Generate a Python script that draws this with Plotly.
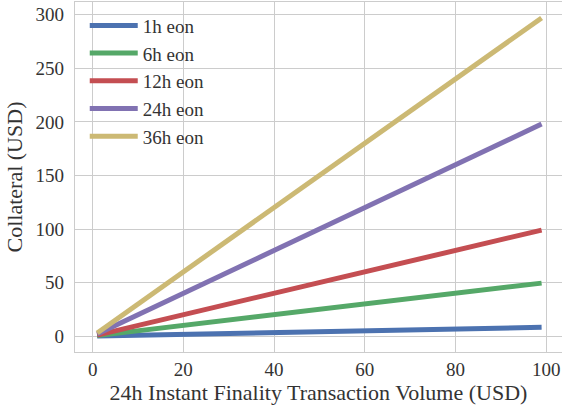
import plotly.graph_objects as go

# Transaction volume sampled at the ends of each (linear) series
volume = [1, 99]
labels = ["1h eon", "6h eon", "12h eon", "24h eon", "36h eon"]
coll_1h = [0.08, 8.25]
coll_6h = [0.5, 49.5]
coll_12h = [1.0, 99.0]
coll_24h = [2.0, 198.0]
coll_36h = [3.0, 297.0]
colors = ["#4C72B0", "#55A868", "#C44E52", "#8172B2", "#CCB974"]

series = [coll_1h, coll_6h, coll_12h, coll_24h, coll_36h]

FONT = "Liberation Serif"
fig = go.Figure()
for name, ys, c in zip(labels, series, colors):
    fig.add_trace(go.Scatter(x=volume, y=ys, mode="lines", name=name,
                             line=dict(color=c, width=5)))

axis_common = dict(showgrid=True, gridcolor="#cccccc", gridwidth=1,
                   showline=True, linecolor="#cccccc", linewidth=1.2, mirror=True,
                   zeroline=False, ticks="",
                   tickfont=dict(family=FONT, size=19, color="#333333"))

fig.update_layout(
    width=562, height=410,
    margin=dict(l=75, r=0, t=2, b=58),
    plot_bgcolor="white", paper_bgcolor="white",
    font=dict(family=FONT, color="#333333"),
    xaxis=dict(range=[-3.9, 103.5], tickvals=[0, 20, 40, 60, 80, 100],
               title=dict(text="24h Instant Finality Transaction Volume (USD)",
                          font=dict(family=FONT, size=22, color="#333333"), standoff=4),
               **axis_common),
    yaxis=dict(range=[-14.8, 311.9], tickvals=[0, 50, 100, 150, 200, 250, 300],
               ticklabelstandoff=6,
               title=dict(text="Collateral (USD)",
                          font=dict(family=FONT, size=22, color="#333333"), standoff=6),
               **axis_common),
    legend=dict(x=0.02, y=0.987, xanchor="left", yanchor="top",
                bgcolor="rgba(255,255,255,0)", borderwidth=0,
                font=dict(family=FONT, size=19, color="#333333"),
                itemwidth=48, tracegroupgap=0),
    showlegend=True,
)

fig.write_html("out.html")
